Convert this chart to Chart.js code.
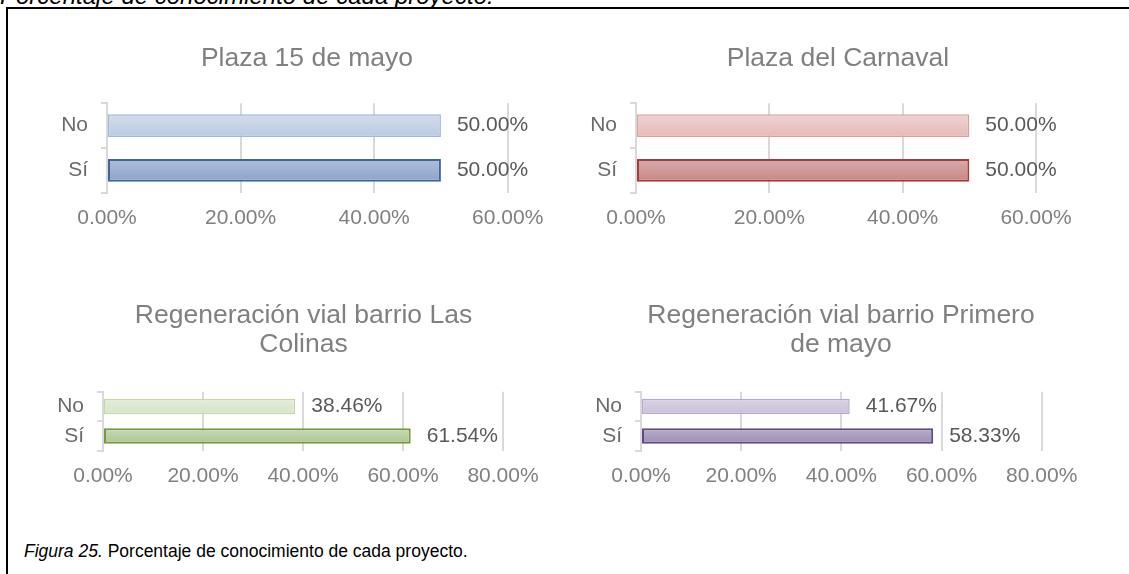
<!DOCTYPE html>
<html>
<head>
<meta charset="utf-8">
<script src="https://cdn.jsdelivr.net/npm/chart.js@4/dist/chart.umd.min.js"></script>
<style>
  body { margin: 0; width: 1129px; height: 574px; overflow: hidden; background: #fff; position: relative; font-family: "Liberation Sans", Arial, sans-serif; }
  canvas { position: absolute; }
  .cut { position: absolute; left: 0; top: -16px; font-size: 24px; line-height: 24px; font-style: italic; color: #000; white-space: nowrap; }
  .frame-top { position: absolute; left: 6px; top: 7px; width: 1130px; height: 2px; background: #000; }
  .frame-left { position: absolute; left: 6px; top: 7px; width: 2px; height: 580px; background: #000; }
  .caption { position: absolute; left: 24px; top: 541px; font-size: 17.5px; line-height: 20px; color: #000; white-space: nowrap; }
</style>
</head>
<body>
<div class="cut">Porcentaje de conocimiento de cada proyecto.</div>
<div class="frame-top"></div>
<div class="frame-left"></div>
<canvas id="c1" width="541" height="230" style="left:16px;top:20px"></canvas>
<canvas id="c2" width="545" height="230" style="left:545px;top:20px"></canvas>
<canvas id="c3" width="545" height="230" style="left:12px;top:280px"></canvas>
<canvas id="c4" width="545" height="230" style="left:550px;top:280px"></canvas>
<div class="caption"><i>Figura 25.</i> Porcentaje de conocimiento de cada proyecto.</div>
<script>
// data
const categories = ['No', 'Sí'];
const plaza15 = [50.00, 50.00];
const plazaCarnaval = [50.00, 50.00];
const colinas = [38.46, 61.54];
const primeroMayo = [41.67, 58.33];
const topTicks = [0, 20, 40, 60];
const bottomTicks = [0, 20, 40, 60, 80];
const titles = [
  ['Plaza 15 de mayo'],
  ['Plaza del Carnaval'],
  ['Regeneración vial barrio Las', 'Colinas'],
  ['Regeneración vial barrio Primero', 'de mayo']
];

Chart.defaults.font.family = '"Liberation Sans", Arial, sans-serif';

// fill gradient top -> bottom, border, per bar (No, Sí)
const palettes = {
  blue:   { fill: [['#d3dcec', '#bac9e2'], ['#aebfdb', '#8ca3c9']], border: ['#9fb5d9', '#3f659c'] },
  red:    { fill: [['#efd3d3', '#e2bab9'], ['#d9acab', '#c78684']], border: ['#dba09e', '#a33c3a'] },
  green:  { fill: [['#e4edda', '#d6e3c8'], ['#c8d9b3', '#adc690']], border: ['#c4d7a8', '#76983f'] },
  purple: { fill: [['#d9d3e4', '#c9c0da'], ['#b9aecb', '#9c8db4']], border: ['#b8a9cc', '#5f4a82'] }
};

function barFill(pal, barPct) {
  return (c) => {
    const chart = c.chart;
    const y = chart.scales.y;
    const stops = pal.fill[c.dataIndex] || pal.fill[0];
    if (!chart.chartArea || !y || c.dataIndex === undefined) return stops[1];
    const yc = y.getPixelForValue(c.dataIndex);
    const half = (y.height / categories.length) * barPct / 2;
    const g = chart.ctx.createLinearGradient(0, yc - half, 0, yc + half);
    g.addColorStop(0, stops[0]);
    g.addColorStop(1, stops[1]);
    return g;
  };
}

const valueLabels = {
  id: 'valueLabels',
  afterDatasetsDraw(chart) {
    const ctx = chart.ctx;
    const meta = chart.getDatasetMeta(0);
    const data = chart.data.datasets[0].data;
    ctx.save();
    ctx.font = '21px "Liberation Sans", Arial, sans-serif';
    ctx.fillStyle = '#595959';
    ctx.textAlign = 'left';
    ctx.textBaseline = 'middle';
    meta.data.forEach((bar, i) => {
      ctx.fillText(data[i].toFixed(2) + '%', bar.x + 16, bar.y);
    });
    ctx.restore();
  }
};

// chart title placed freely (Excel centres it on the whole chart object)
const panelTitle = {
  id: 'panelTitle',
  afterDraw(chart, args, opts) {
    const ctx = chart.ctx;
    ctx.save();
    ctx.font = '26.5px "Liberation Sans", Arial, sans-serif';
    ctx.fillStyle = '#808080';
    ctx.textAlign = 'center';
    ctx.textBaseline = 'middle';
    opts.lines.forEach((line, i) => ctx.fillText(line, opts.x, opts.y + i * 28.7));
    ctx.restore();
  }
};

function makeChart(id, title, values, ticks, pal, lay) {
  const barPct = lay.barPct;
  new Chart(document.getElementById(id), {
    type: 'bar',
    data: {
      labels: categories,
      datasets: [{
        data: values,
        backgroundColor: barFill(pal, barPct),
        borderColor: pal.border,
        borderWidth: [1.5, 2],
        borderSkipped: false,
        categoryPercentage: 1,
        barPercentage: barPct
      }]
    },
    options: {
      indexAxis: 'y',
      responsive: false,
      animation: false,
      devicePixelRatio: 1,
      layout: { padding: { left: 0, right: lay.padRight, top: lay.padTop, bottom: 0 } },
      plugins: {
        legend: { display: false },
        tooltip: { enabled: false },
        title: { display: false },
        panelTitle: { lines: title, x: lay.titleX, y: lay.titleY }
      },
      scales: {
        x: {
          min: ticks[0],
          max: ticks[ticks.length - 1],
          ticks: {
            stepSize: ticks[1] - ticks[0],
            color: '#808080',
            font: { size: 21 },
            padding: 13,
            callback: (v) => v.toFixed(2) + '%'
          },
          grid: { color: '#d9d9d9', lineWidth: 2, drawTicks: false },
          border: { display: false },
          afterFit: (s) => { s.height = lay.xHeight; }
        },
        y: {
          ticks: { color: '#6a6a6a', font: { size: 21 }, padding: 13 },
          grid: { color: '#d9d9d9', lineWidth: 2, drawOnChartArea: false, drawTicks: true, tickLength: 6 },
          border: { display: true, color: '#d9d9d9', width: 2 },
          afterFit: (s) => { s.width = 91; }
        }
      }
    },
    plugins: [valueLabels, panelTitle]
  });
}

const topRow = { barPct: 0.51, padTop: 83.3, xHeight: 57.3, titleY: 38.5 };
const bottomRow = { barPct: 0.53, padTop: 111.7, xHeight: 59.3, titleY: 35.5 };

makeChart('c1', titles[0], plaza15, topTicks, palettes.blue, Object.assign({ padRight: 49.3, titleX: 291 }, topRow));
makeChart('c2', titles[1], plazaCarnaval, topTicks, palettes.red, Object.assign({ padRight: 54, titleX: 293 }, topRow));
makeChart('c3', titles[2], colinas, bottomTicks, palettes.green, Object.assign({ padRight: 54, titleX: 291.5 }, bottomRow));
makeChart('c4', titles[3], primeroMayo, bottomTicks, palettes.purple, Object.assign({ padRight: 53.3, titleX: 291 }, bottomRow));
</script>
</body>
</html>
